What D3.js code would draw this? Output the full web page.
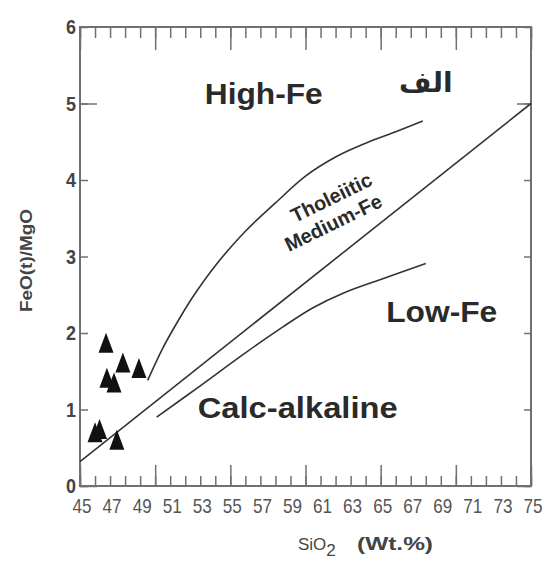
<!DOCTYPE html>
<html>
<head>
<meta charset="utf-8">
<script src="https://cdn.jsdelivr.net/npm/d3@7"></script>
<style>
  body { margin: 0; background: #fff; }
  .tick-label { font-family: "Liberation Sans Narrow", "Arial Narrow", "Liberation Sans", sans-serif; }
</style>
</head>
<body>
<svg class="plot"></svg>
<script>
// tick values
const xMinorTicks = d3.range(45, 76)
const xMajorTicks = [45, 50, 55, 60, 65, 70, 75]
const xTickLabels = d3.range(45, 76, 2)
const yTicks = [0, 1, 2, 3, 4, 5, 6]
const yMajorTicks = [0, 5]

// boundary lines (SiO2, FeO/MgO)
const tholeiiticLine = [[45, 0.32], [75, 5.0]]
const highFeCurve = [[49.5, 1.38], [50.5, 1.8], [51.5, 2.15], [52.5, 2.47], [54, 2.88], [56, 3.33],
  [58, 3.7], [60, 4.05], [62, 4.3], [64, 4.48], [66, 4.63], [67.8, 4.77]]
const lowFeCurve = [[50.1, 0.9], [53, 1.31], [56, 1.74], [58.5, 2.08], [60.5, 2.33], [62.5, 2.52],
  [65, 2.7], [68, 2.91]]

// samples
const sampleSiO2 = [46.73, 47.85, 48.92, 46.79, 47.26, 46.0, 46.3, 47.45]
const sampleFeOMgO = [1.83, 1.57, 1.50, 1.37, 1.31, 0.66, 0.70, 0.56]

// field labels
const fieldNames = ["High-Fe", "Low-Fe", "Calc-alkaline"]
const fieldSiO2 = [53.3, 65.37, 52.83]
const fieldFeO = [5.0, 2.14, 0.89]
const bandNames = ["Tholeiitic", "Medium-Fe"]
const bandSiO2 = [61.92, 62.05]
const bandFeO = [3.69, 3.36]

const margin = {left: 80, top: 27, right: 17, bottom: 75}
const w = 451
const h = 459

const svg = d3.select(".plot")
  .attr('width', 548)
  .attr('height', 561)

const xScale = d3.scaleLinear().domain([45, 75]).range([margin.left, margin.left + w])
const yScale = d3.scaleLinear().domain([0, 6]).range([margin.top + h, margin.top])

const axisColor = '#707070'
const lineColor = '#333'

// frame
svg.append('rect')
  .attr('x', xScale(45)).attr('y', yScale(6))
  .attr('width', xScale(75) - xScale(45)).attr('height', yScale(0) - yScale(6))
  .attr('fill', 'none').attr('stroke', axisColor).attr('stroke-width', 2)

// inward ticks on all four sides
function ticks(axis, cls, transform) {
  const g = svg.append('g').attr('class', cls).attr('transform', transform).call(axis)
  g.select('.domain').remove()
  g.selectAll('line').attr('stroke', axisColor).attr('stroke-width', 1.5)
  return g
}
ticks(d3.axisBottom(xScale).tickValues(xMinorTicks).tickSize(-10).tickFormat(''), 'xb', `translate(0,${yScale(0)})`)
ticks(d3.axisBottom(xScale).tickValues(xMajorTicks).tickSize(-21).tickFormat(''), 'xb2', `translate(0,${yScale(0)})`)
ticks(d3.axisTop(xScale).tickValues(xMinorTicks).tickSize(-11).tickFormat(''), 'xt', `translate(0,${yScale(6)})`)
ticks(d3.axisTop(xScale).tickValues(xMajorTicks).tickSize(-23).tickFormat(''), 'xt2', `translate(0,${yScale(6)})`)
ticks(d3.axisLeft(yScale).tickValues(yTicks).tickSize(-8).tickFormat(''), 'yl', `translate(${xScale(45)},0)`)
ticks(d3.axisLeft(yScale).tickValues(yMajorTicks).tickSize(-17).tickFormat(''), 'yl2', `translate(${xScale(45)},0)`)
ticks(d3.axisRight(yScale).tickValues(yTicks).tickSize(-7).tickFormat(''), 'yr', `translate(${xScale(75)},0)`)
ticks(d3.axisRight(yScale).tickValues(yMajorTicks).tickSize(-14).tickFormat(''), 'yr2', `translate(${xScale(75)},0)`)

// tick labels (condensed look)
svg.append('g').selectAll('text')
  .data(xTickLabels)
  .join('text')
  .attr('class', 'tick-label')
  .attr('x', d => xScale(d) + 2)
  .attr('y', yScale(0) + 27)
  .attr('text-anchor', 'middle')
  .attr('font-size', 21)
  .attr('fill', '#555')
  .attr('textLength', 19)
  .attr('lengthAdjust', 'spacingAndGlyphs')
  .text(d => d)

svg.append('g').selectAll('text')
  .data(yTicks)
  .join('text')
  .attr('class', 'tick-label')
  .attr('x', xScale(45) - 4)
  .attr('y', d => yScale(d) + 7)
  .attr('text-anchor', 'end')
  .attr('font-size', 21)
  .attr('font-weight', 'bold')
  .attr('fill', '#444')
  .attr('textLength', 10)
  .attr('lengthAdjust', 'spacingAndGlyphs')
  .text(d => d)

// axis titles
const xTitle = svg.append('text')
  .attr('x', 298).attr('y', 550)
  .attr('font-family', 'Liberation Sans, sans-serif')
  .attr('fill', '#444')
xTitle.append('tspan').attr('font-size', 17).text('SiO')
xTitle.append('tspan').attr('font-size', 17).attr('dy', 6).text('2')
xTitle.append('tspan').attr('x', 357).attr('dy', -6).attr('font-size', 19).attr('font-weight', 'bold')
  .attr('textLength', 76).attr('lengthAdjust', 'spacingAndGlyphs').text('(Wt.%)')

svg.append('text')
  .attr('transform', `translate(32,${(yScale(0) + yScale(6)) / 2 + 4}) rotate(-90)`)
  .attr('text-anchor', 'middle')
  .attr('font-family', 'Liberation Sans, sans-serif')
  .attr('font-weight', 'bold')
  .attr('font-size', 16)
  .attr('fill', '#444')
  .attr('textLength', 103).attr('lengthAdjust', 'spacingAndGlyphs')
  .text('FeO(t)/MgO')

// boundary lines
const straight = d3.line().x(d => xScale(d[0])).y(d => yScale(d[1]))
const smooth = d3.line().x(d => xScale(d[0])).y(d => yScale(d[1])).curve(d3.curveCatmullRom)

svg.selectAll('.boundary')
  .data([[tholeiiticLine, straight], [highFeCurve, smooth], [lowFeCurve, smooth]])
  .join('path')
  .attr('class', 'boundary')
  .attr('d', d => d[1](d[0]))
  .attr('fill', 'none')
  .attr('stroke', lineColor)
  .attr('stroke-width', 1.6)

// samples as filled triangles
const tw = 15, th = 20
svg.selectAll('.sample')
  .data(d3.zip(sampleSiO2, sampleFeOMgO))
  .join('path')
  .attr('class', 'sample')
  .attr('d', d => {
    const cx = xScale(d[0]), cy = yScale(d[1])
    return `M${cx},${cy - th * 2 / 3}L${cx + tw / 2},${cy + th / 3}L${cx - tw / 2},${cy + th / 3}Z`
  })
  .attr('fill', '#111')

// field labels
const fieldWidths = {"High-Fe": 118, "Low-Fe": 111, "Calc-alkaline": 200}
svg.selectAll('.field')
  .data(d3.zip(fieldNames, fieldSiO2, fieldFeO))
  .join('text')
  .attr('class', 'field')
  .attr('x', d => xScale(d[1]))
  .attr('y', d => yScale(d[2]))
  .attr('font-family', 'Liberation Sans, Arial, sans-serif')
  .attr('font-weight', 'bold')
  .attr('font-size', 29)
  .attr('fill', '#2a2a2a')
  .attr('textLength', d => fieldWidths[d[0]])
  .attr('lengthAdjust', 'spacingAndGlyphs')
  .text(d => d[0])

// tholeiitic / medium-Fe label, rotated along the band
svg.selectAll('.band')
  .data(d3.zip(bandNames, bandSiO2, bandFeO))
  .join('text')
  .attr('class', 'band')
  .attr('transform', d => `translate(${xScale(d[1])},${yScale(d[2])}) rotate(-26)`)
  .attr('text-anchor', 'middle')
  .attr('font-family', 'Liberation Sans, Arial, sans-serif')
  .attr('font-weight', 'bold')
  .attr('font-size', 20)
  .attr('fill', '#2a2a2a')
  .text(d => d[0])

// Arabic panel letter
svg.append('text')
  .attr('x', xScale(68.0))
  .attr('y', yScale(5.15))
  .attr('text-anchor', 'middle')
  .attr('font-family', 'DejaVu Sans, sans-serif')
  .attr('font-weight', 'bold')
  .attr('font-size', 28)
  .attr('fill', '#2a2a2a')
  .text('الف')
</script>
</body>
</html>
